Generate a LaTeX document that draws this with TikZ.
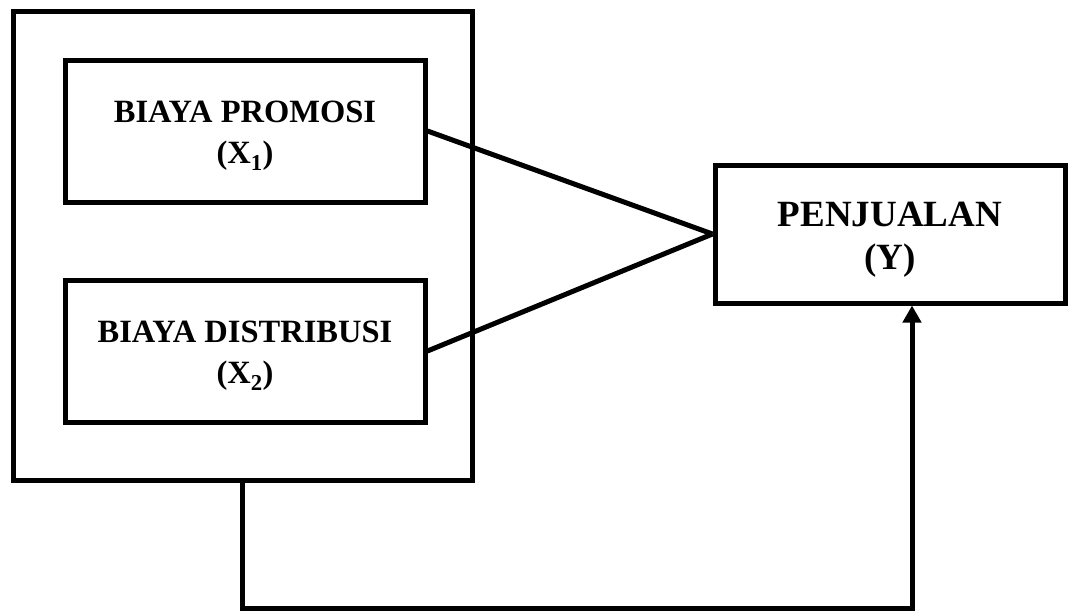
\documentclass[tikz,border=0pt]{standalone}
\usepackage{fontspec}
\setmainfont{Liberation Serif}
\usepackage{tikz}
\usetikzlibrary{arrows.meta}

\tikzset{
  varbox/.style={draw, line width=5pt},
  vartext/.style={align=center, font=\bfseries\fontsize{32.5}{41}\selectfont},
}

\begin{document}
\begin{tikzpicture}[x=1pt, y=-1pt, line width=5pt]
\useasboundingbox (0,0) rectangle (1072,613);
\node[draw, minimum width=459pt, minimum height=469pt] (grp) at (242.5,245.5) {};
\node[varbox, minimum width=360pt, minimum height=142pt] (xone) at (245,131) {};
\node[varbox, minimum width=360pt, minimum height=142pt] (xtwo) at (245,351) {};
\node[varbox, minimum width=350pt, minimum height=138pt] (yy) at (890,234) {};
\node[vartext] (xonetxt) at ([yshift=-5pt]xone.center) {BIAYA PROMOSI\\(X\textsubscript{1})};
\node[vartext] (xtwotxt) at ([yshift=-5pt]xtwo.center) {BIAYA DISTRIBUSI\\(X\textsubscript{2})};
\node[vartext, font=\bfseries\fontsize{37}{43}\selectfont] (yytxt) at ([yshift=-6pt]yy.center) {PENJUALAN\\(Y)};
\draw (xone.east) -- (yy.west);
\draw (xtwo.east) -- (yy.west);
\coordinate (turn) at (912,608);
\draw[-{Triangle[width=18pt,length=17pt]}] (grp.south) |- (turn) -- (turn |- yy.south);
\end{tikzpicture}
\end{document}
